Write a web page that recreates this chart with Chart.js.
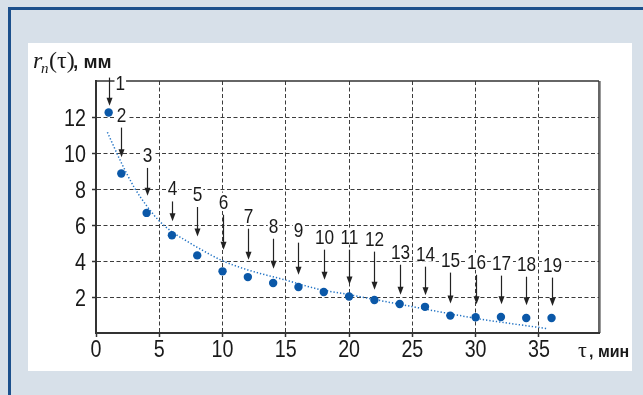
<!DOCTYPE html>
<html>
<head>
<meta charset="utf-8">
<script src="https://cdn.jsdelivr.net/npm/chart.js@4.4.1/dist/chart.umd.min.js"></script>
<style>
    html, body { margin: 0; padding: 0; width: 643px; height: 395px; overflow: hidden; background: #d7e0e9; }
    #frame { position: absolute; left: 8px; top: 7px; width: 635px; height: 388px; box-sizing: border-box;
             border-top: 3px solid #1c508c; border-left: 3px solid #1c508c; }
    #panel { position: absolute; left: 28px; top: 43px; width: 604px; height: 328px; background: #fff; }
    #wrap { position: absolute; left: 0; top: 0; width: 643px; height: 395px; }
</style>
</head>
<body>
<div id="frame"></div>
<div id="panel"></div>
<div id="wrap"><canvas id="radiusChart" width="643" height="395"></canvas></div>
<script>
// measured points (tau in min, r in mm)
const tau = [1, 2, 4, 6, 8, 10, 12, 14, 16, 18, 20, 22, 24, 26, 28, 30, 32, 34, 36]
const radius = [12.3, 8.9, 6.7, 5.45, 4.33, 3.44, 3.12, 2.79, 2.57, 2.29, 2.04, 1.84, 1.62, 1.46, 0.97, 0.88, 0.89, 0.84, 0.84]
const pointLabels = ["1", "2", "3", "4", "5", "6", "7", "8", "9", "10", "11", "12", "13", "14", "15", "16", "17", "18", "19"]

// arrows above each point: start and tip, in mm
const arrowFrom = [14.25, 11.46, 9.21, 7.34, 7.03, 6.6, 5.82, 5.26, 5.04, 4.65, 4.65, 4.54, 3.81, 3.7, 3.37, 3.25, 3.2, 3.14, 3.09]
const arrowTo = [12.68, 9.8, 7.66, 6.23, 5.39, 4.65, 4.09, 3.59, 3.25, 2.97, 2.7, 2.42, 2.14, 2.1, 1.65, 1.6, 1.6, 1.55, 1.5]

// dotted trend curve
const trendTau = [0.9, 2, 3, 4, 5, 6, 7, 8, 10, 12, 15, 17.5, 20, 25, 30, 35.7]
const trendR = [11.2, 9.5, 8.15, 7.1, 6.25, 5.65, 5.2, 4.78, 4.03, 3.52, 2.95, 2.46, 2.14, 1.47, 0.82, 0.24]

const xTicks = [0, 5, 10, 15, 20, 25, 30, 35]
const yTicks = [2, 4, 6, 8, 10, 12]

// condensed look: Liberation Sans squeezed horizontally
function narrowText(ctx, text, x, y, size, align) {
    const squeeze = 0.82
    ctx.font = size + "px 'Liberation Sans', Arial, sans-serif"
    const w = ctx.measureText(text).width * squeeze
    let left = x
    if (align === "center") left = x - w / 2
    if (align === "right") left = x - w
    ctx.save()
    ctx.translate(left, y)
    ctx.scale(squeeze, 1)
    ctx.textAlign = "left"
    ctx.fillText(text, 0, 0)
    ctx.restore()
    return { left, w }
}

const annotations = {
    id: "annotations",
    afterDatasetsDraw(chart) {
        const ctx = chart.ctx
        const xs = chart.scales.x
        const ys = chart.scales.y
        const area = chart.chartArea
        ctx.save()

        // top and right frame of the plot
        ctx.strokeStyle = "#333"
        ctx.lineWidth = 1.5
        ctx.beginPath()
        ctx.moveTo(area.left, area.top)
        ctx.lineTo(area.right, area.top)
        ctx.stroke()
        ctx.strokeStyle = "#999"
        ctx.lineWidth = 1
        ctx.beginPath()
        ctx.moveTo(area.right + 1.5, area.top)
        ctx.lineTo(area.right + 1.5, area.bottom)
        ctx.stroke()
        ctx.strokeStyle = "#333"
        ctx.lineWidth = 1.5
        ctx.beginPath()
        ctx.moveTo(area.right, area.top)
        ctx.lineTo(area.right, area.bottom)
        ctx.stroke()

        // tick labels
        ctx.fillStyle = "#1a1a1a"
        ctx.textBaseline = "alphabetic"
        xTicks.forEach((v) => {
            narrowText(ctx, String(v), xs.getPixelForValue(v), area.bottom + 24, 24, "center")
        })
        yTicks.forEach((v) => {
            narrowText(ctx, String(v), area.left - 10, ys.getPixelForValue(v) + 8.5, 24, "right")
        })

        // arrows and point numbers
        tau.forEach((t, i) => {
            const x = Math.round(xs.getPixelForValue(t)) + 0.5
            const y1 = ys.getPixelForValue(arrowFrom[i])
            const y2 = ys.getPixelForValue(arrowTo[i])
            ctx.strokeStyle = "#222"
            ctx.fillStyle = "#222"
            ctx.lineWidth = 1.2
            ctx.beginPath()
            ctx.moveTo(x, y1)
            ctx.lineTo(x, y2 - 7)
            ctx.stroke()
            ctx.beginPath()
            ctx.moveTo(x - 3, y2 - 8)
            ctx.lineTo(x + 3, y2 - 8)
            ctx.lineTo(x, y2)
            ctx.closePath()
            ctx.fill()

            const text = pointLabels[i]
            ctx.font = "21px 'Liberation Sans', Arial, sans-serif"
            const w = ctx.measureText(text).width * 0.82
            let cx, by
            if (i === 0) {
                cx = x + 6 + w / 2
                by = y1 + 12
            } else {
                cx = x
                by = y1 - 6
            }
            ctx.fillStyle = "#fff"
            ctx.fillRect(cx - w / 2 - 1, by - 16, w + 2, 17)
            ctx.fillStyle = "#1a1a1a"
            narrowText(ctx, text, cx, by, 21, "center")
        })

        // y axis title  r_n(τ), мм
        ctx.fillStyle = "#1a1a1a"
        ctx.textAlign = "left"
        ctx.font = "italic 24px 'Liberation Serif', serif"
        ctx.fillText("r", 33, 68)
        ctx.font = "italic 15px 'Liberation Serif', serif"
        ctx.fillText("n", 41, 73)
        ctx.font = "24px 'Liberation Serif', serif"
        ctx.fillText("(τ)", 49, 68)
        ctx.font = "bold 19px 'Liberation Sans', sans-serif"
        ctx.fillText(", мм", 73, 68)

        // x axis title  τ, мин
        ctx.font = "22px 'Liberation Serif', serif"
        ctx.fillText("τ", 578, 357)
        ctx.font = "bold 16px 'Liberation Sans', sans-serif"
        ctx.fillText(", мин", 589, 357)

        ctx.restore()
    },
}

const chartCtx = document.getElementById("radiusChart").getContext("2d")
const radiusChart = new Chart(chartCtx, {
    type: "scatter",
    data: {
        datasets: [
            {
                data: tau.map((t, i) => ({ x: t, y: radius[i] })),
                backgroundColor: "#0b58a8",
                borderWidth: 0,
                pointRadius: 4.2,
            },
            {
                type: "line",
                data: trendTau.map((t, i) => ({ x: t, y: trendR[i] })),
                borderColor: "#2273c4",
                borderWidth: 1.5,
                borderDash: [1.3, 2],
                pointRadius: 0,
                fill: false,
                cubicInterpolationMode: "monotone",
            },
        ],
    },
    options: {
        responsive: false,
        animation: false,
        layout: {
            padding: { left: 56, right: 44, top: 81, bottom: 32 },
        },
        plugins: {
            legend: { display: false },
            tooltip: { enabled: false },
        },
        scales: {
            x: {
                type: "linear",
                min: 0,
                max: 39.75,
                afterBuildTicks: (scale) => {
                    scale.ticks = xTicks.map((v) => ({ value: v }))
                },
                afterFit: (scale) => {
                    scale.height = 30
                },
                grid: {
                    color: (c) => (c.tick && c.tick.value === 0 ? "rgba(0,0,0,0)" : "#3c3c3c"),
                    lineWidth: 1,
                    tickLength: 4,
                    tickColor: "#333",
                    tickWidth: 1.5,
                },
                border: { color: "#333", width: 2, dash: [4, 2.5] },
                ticks: { display: false },
            },
            y: {
                min: 0,
                max: 14.06,
                afterBuildTicks: (scale) => {
                    scale.ticks = yTicks.map((v) => ({ value: v }))
                },
                afterFit: (scale) => {
                    scale.width = 40
                },
                grid: {
                    color: "#3c3c3c",
                    lineWidth: 1,
                    tickLength: 4,
                    tickColor: "#333",
                    tickWidth: 1.5,
                },
                border: { color: "#333", width: 2, dash: [4, 2.5] },
                ticks: { display: false },
            },
        },
    },
    plugins: [annotations],
})
</script>
</body>
</html>
